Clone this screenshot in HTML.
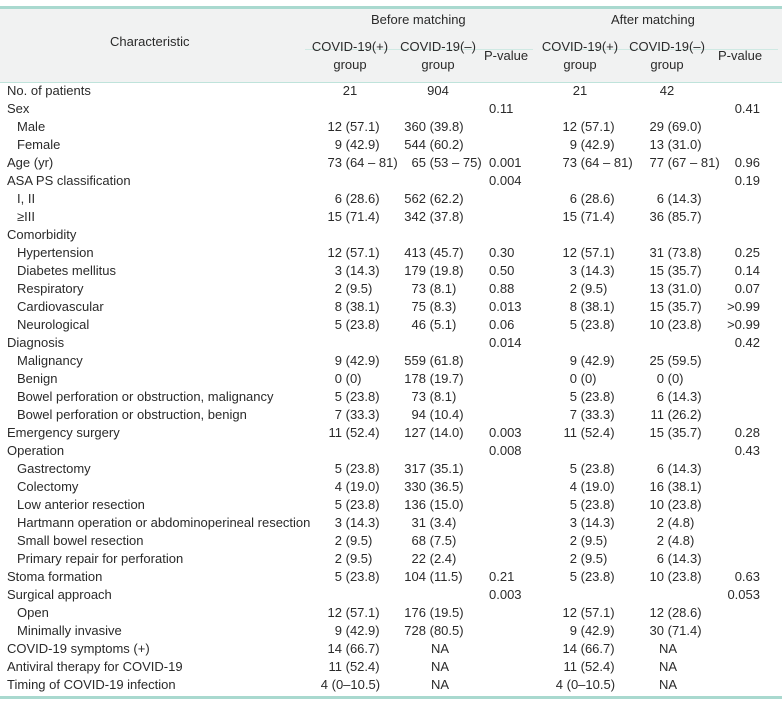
<!DOCTYPE html>
<html><head><meta charset="utf-8"><style>
body{margin:0;background:#fff;}
#w{position:relative;width:782px;height:704px;font-family:"Liberation Sans",sans-serif;font-size:13px;color:#2a2a2a;overflow:hidden;}
.hd{position:absolute;left:0;top:8px;width:782px;height:74px;background:#f1f2f2;}
.t{position:absolute;white-space:nowrap;line-height:18px;}
.r{position:absolute;left:0;width:782px;height:18px;line-height:18px;white-space:nowrap;}
.r>div{position:absolute;top:0;}
.l{left:7px}.s{left:17px}
.a{left:302px}.b{left:379px}.c{left:489px}.d{left:537px}.e{left:617px}.f{left:690px;width:70px;text-align:right}
.n{display:inline-block;width:40px;text-align:right;}
.a .n,.d .n{width:40px}.b .n,.e .n{width:47px}
.ctr{text-align:center;width:60px}
</style></head><body><div id="w">
<div class="hd"></div>
<div style="position:absolute;left:0;top:6px;width:782px;height:3px;background:#a9d9cf"></div>
<div style="position:absolute;left:0;top:82px;width:782px;height:1px;background:#bfe3db"></div>
<div style="position:absolute;left:305px;top:49px;width:228px;height:1px;background:#cfe9e3"></div>
<div style="position:absolute;left:543px;top:49px;width:235px;height:1px;background:#cfe9e3"></div>
<div style="position:absolute;left:0;top:696px;width:782px;height:3px;background:#a9d9cf"></div>
<div class="t" style="left:110px;top:33px">Characteristic</div>
<div class="t" style="left:371px;top:11px">Before matching</div>
<div class="t" style="left:611px;top:11px">After matching</div>
<div class="t" style="left:305px;top:38px;width:90px;text-align:center">COVID-19(+)<br>group</div>
<div class="t" style="left:393px;top:38px;width:90px;text-align:center">COVID-19(–)<br>group</div>
<div class="t" style="left:484px;top:47px">P-value</div>
<div class="t" style="left:535px;top:38px;width:90px;text-align:center">COVID-19(+)<br>group</div>
<div class="t" style="left:622px;top:38px;width:90px;text-align:center">COVID-19(–)<br>group</div>
<div class="t" style="left:718px;top:47px">P-value</div>

<div class="r" style="top:82px"><div class="l">No. of patients</div><div class="a ctr" style="left:320px">21</div><div class="b ctr" style="left:408px">904</div><div class="d ctr" style="left:550px">21</div><div class="e ctr" style="left:637px">42</div></div>
<div class="r" style="top:100px"><div class="l">Sex</div><div class="c">0.11</div><div class="f">0.41</div></div>
<div class="r" style="top:118px"><div class="s">Male</div><div class="a"><span class="n">12</span> (57.1)</div><div class="b"><span class="n">360</span> (39.8)</div><div class="d"><span class="n">12</span> (57.1)</div><div class="e"><span class="n">29</span> (69.0)</div></div>
<div class="r" style="top:136px"><div class="s">Female</div><div class="a"><span class="n">9</span> (42.9)</div><div class="b"><span class="n">544</span> (60.2)</div><div class="d"><span class="n">9</span> (42.9)</div><div class="e"><span class="n">13</span> (31.0)</div></div>
<div class="r" style="top:154px"><div class="l">Age (yr)</div><div class="a"><span class="n">73</span> (64 – 81)</div><div class="b"><span class="n">65</span> (53 – 75)</div><div class="c">0.001</div><div class="d"><span class="n">73</span> (64 – 81)</div><div class="e"><span class="n">77</span> (67 – 81)</div><div class="f">0.96</div></div>
<div class="r" style="top:172px"><div class="l">ASA PS classification</div><div class="c">0.004</div><div class="f">0.19</div></div>
<div class="r" style="top:190px"><div class="s">I, II</div><div class="a"><span class="n">6</span> (28.6)</div><div class="b"><span class="n">562</span> (62.2)</div><div class="d"><span class="n">6</span> (28.6)</div><div class="e"><span class="n">6</span> (14.3)</div></div>
<div class="r" style="top:208px"><div class="s">≥III</div><div class="a"><span class="n">15</span> (71.4)</div><div class="b"><span class="n">342</span> (37.8)</div><div class="d"><span class="n">15</span> (71.4)</div><div class="e"><span class="n">36</span> (85.7)</div></div>
<div class="r" style="top:226px"><div class="l">Comorbidity</div></div>
<div class="r" style="top:244px"><div class="s">Hypertension</div><div class="a"><span class="n">12</span> (57.1)</div><div class="b"><span class="n">413</span> (45.7)</div><div class="c">0.30</div><div class="d"><span class="n">12</span> (57.1)</div><div class="e"><span class="n">31</span> (73.8)</div><div class="f">0.25</div></div>
<div class="r" style="top:262px"><div class="s">Diabetes mellitus</div><div class="a"><span class="n">3</span> (14.3)</div><div class="b"><span class="n">179</span> (19.8)</div><div class="c">0.50</div><div class="d"><span class="n">3</span> (14.3)</div><div class="e"><span class="n">15</span> (35.7)</div><div class="f">0.14</div></div>
<div class="r" style="top:280px"><div class="s">Respiratory</div><div class="a"><span class="n">2</span> (9.5)</div><div class="b"><span class="n">73</span> (8.1)</div><div class="c">0.88</div><div class="d"><span class="n">2</span> (9.5)</div><div class="e"><span class="n">13</span> (31.0)</div><div class="f">0.07</div></div>
<div class="r" style="top:298px"><div class="s">Cardiovascular</div><div class="a"><span class="n">8</span> (38.1)</div><div class="b"><span class="n">75</span> (8.3)</div><div class="c">0.013</div><div class="d"><span class="n">8</span> (38.1)</div><div class="e"><span class="n">15</span> (35.7)</div><div class="f">&gt;0.99</div></div>
<div class="r" style="top:316px"><div class="s">Neurological</div><div class="a"><span class="n">5</span> (23.8)</div><div class="b"><span class="n">46</span> (5.1)</div><div class="c">0.06</div><div class="d"><span class="n">5</span> (23.8)</div><div class="e"><span class="n">10</span> (23.8)</div><div class="f">&gt;0.99</div></div>
<div class="r" style="top:334px"><div class="l">Diagnosis</div><div class="c">0.014</div><div class="f">0.42</div></div>
<div class="r" style="top:352px"><div class="s">Malignancy</div><div class="a"><span class="n">9</span> (42.9)</div><div class="b"><span class="n">559</span> (61.8)</div><div class="d"><span class="n">9</span> (42.9)</div><div class="e"><span class="n">25</span> (59.5)</div></div>
<div class="r" style="top:370px"><div class="s">Benign</div><div class="a"><span class="n">0</span> (0)</div><div class="b"><span class="n">178</span> (19.7)</div><div class="d"><span class="n">0</span> (0)</div><div class="e"><span class="n">0</span> (0)</div></div>
<div class="r" style="top:388px"><div class="s">Bowel perforation or obstruction, malignancy</div><div class="a"><span class="n">5</span> (23.8)</div><div class="b"><span class="n">73</span> (8.1)</div><div class="d"><span class="n">5</span> (23.8)</div><div class="e"><span class="n">6</span> (14.3)</div></div>
<div class="r" style="top:406px"><div class="s">Bowel perforation or obstruction, benign</div><div class="a"><span class="n">7</span> (33.3)</div><div class="b"><span class="n">94</span> (10.4)</div><div class="d"><span class="n">7</span> (33.3)</div><div class="e"><span class="n">11</span> (26.2)</div></div>
<div class="r" style="top:424px"><div class="l">Emergency surgery</div><div class="a"><span class="n">11</span> (52.4)</div><div class="b"><span class="n">127</span> (14.0)</div><div class="c">0.003</div><div class="d"><span class="n">11</span> (52.4)</div><div class="e"><span class="n">15</span> (35.7)</div><div class="f">0.28</div></div>
<div class="r" style="top:442px"><div class="l">Operation</div><div class="c">0.008</div><div class="f">0.43</div></div>
<div class="r" style="top:460px"><div class="s">Gastrectomy</div><div class="a"><span class="n">5</span> (23.8)</div><div class="b"><span class="n">317</span> (35.1)</div><div class="d"><span class="n">5</span> (23.8)</div><div class="e"><span class="n">6</span> (14.3)</div></div>
<div class="r" style="top:478px"><div class="s">Colectomy</div><div class="a"><span class="n">4</span> (19.0)</div><div class="b"><span class="n">330</span> (36.5)</div><div class="d"><span class="n">4</span> (19.0)</div><div class="e"><span class="n">16</span> (38.1)</div></div>
<div class="r" style="top:496px"><div class="s">Low anterior resection</div><div class="a"><span class="n">5</span> (23.8)</div><div class="b"><span class="n">136</span> (15.0)</div><div class="d"><span class="n">5</span> (23.8)</div><div class="e"><span class="n">10</span> (23.8)</div></div>
<div class="r" style="top:514px"><div class="s">Hartmann operation or abdominoperineal resection</div><div class="a"><span class="n">3</span> (14.3)</div><div class="b"><span class="n">31</span> (3.4)</div><div class="d"><span class="n">3</span> (14.3)</div><div class="e"><span class="n">2</span> (4.8)</div></div>
<div class="r" style="top:532px"><div class="s">Small bowel resection</div><div class="a"><span class="n">2</span> (9.5)</div><div class="b"><span class="n">68</span> (7.5)</div><div class="d"><span class="n">2</span> (9.5)</div><div class="e"><span class="n">2</span> (4.8)</div></div>
<div class="r" style="top:550px"><div class="s">Primary repair for perforation</div><div class="a"><span class="n">2</span> (9.5)</div><div class="b"><span class="n">22</span> (2.4)</div><div class="d"><span class="n">2</span> (9.5)</div><div class="e"><span class="n">6</span> (14.3)</div></div>
<div class="r" style="top:568px"><div class="l">Stoma formation</div><div class="a"><span class="n">5</span> (23.8)</div><div class="b"><span class="n">104</span> (11.5)</div><div class="c">0.21</div><div class="d"><span class="n">5</span> (23.8)</div><div class="e"><span class="n">10</span> (23.8)</div><div class="f">0.63</div></div>
<div class="r" style="top:586px"><div class="l">Surgical approach</div><div class="c">0.003</div><div class="f">0.053</div></div>
<div class="r" style="top:604px"><div class="s">Open</div><div class="a"><span class="n">12</span> (57.1)</div><div class="b"><span class="n">176</span> (19.5)</div><div class="d"><span class="n">12</span> (57.1)</div><div class="e"><span class="n">12</span> (28.6)</div></div>
<div class="r" style="top:622px"><div class="s">Minimally invasive</div><div class="a"><span class="n">9</span> (42.9)</div><div class="b"><span class="n">728</span> (80.5)</div><div class="d"><span class="n">9</span> (42.9)</div><div class="e"><span class="n">30</span> (71.4)</div></div>
<div class="r" style="top:640px"><div class="l">COVID-19 symptoms (+)</div><div class="a"><span class="n">14</span> (66.7)</div><div class="b ctr" style="left:410px">NA</div><div class="d"><span class="n">14</span> (66.7)</div><div class="e ctr" style="left:638px">NA</div></div>
<div class="r" style="top:658px"><div class="l">Antiviral therapy for COVID-19</div><div class="a"><span class="n">11</span> (52.4)</div><div class="b ctr" style="left:410px">NA</div><div class="d"><span class="n">11</span> (52.4)</div><div class="e ctr" style="left:638px">NA</div></div>
<div class="r" style="top:676px"><div class="l">Timing of COVID-19 infection</div><div class="a" style="left:288px"><span class="n">4</span> (0–10.5)</div><div class="b ctr" style="left:410px">NA</div><div class="d" style="left:523px"><span class="n">4</span> (0–10.5)</div><div class="e ctr" style="left:638px">NA</div></div>
</div></body></html>
